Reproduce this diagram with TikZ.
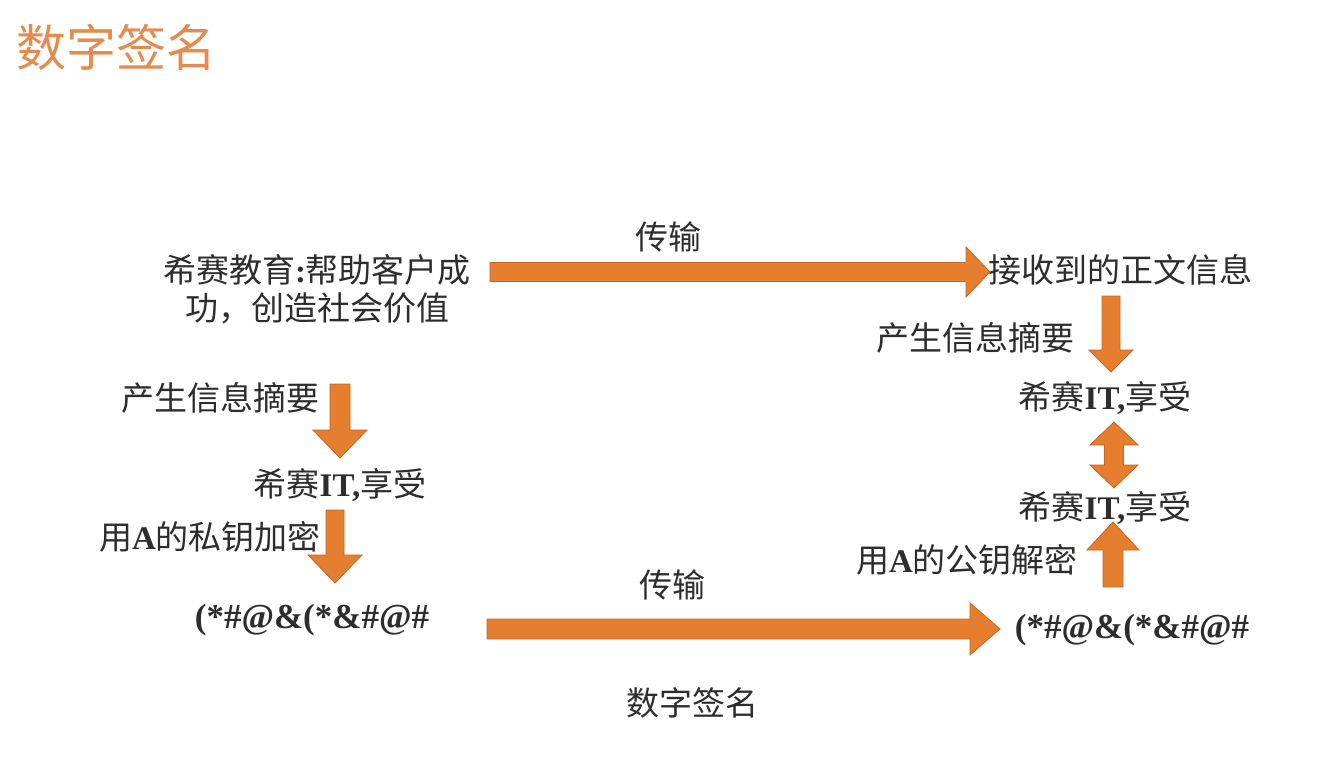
\documentclass[tikz,border=0pt]{standalone}
\usepackage{fontspec}
\setmainfont{Noto Sans CJK SC}
\newfontfamily\latb{Liberation Serif}[BoldFont={Liberation Serif Bold}]
\definecolor{arrowfill}{RGB}{230,126,48}
\definecolor{arrowline}{RGB}{200,100,35}
\definecolor{titlecol}{RGB}{228,140,80}
\definecolor{txt}{RGB}{45,45,45}
\newcommand\LB[1]{{\latb\bfseries #1}}
% horizontal arrow: x start, x tip, y centre, shaft half, head half, head length
\newcommand\myHArrow[6]{\filldraw[arrowst] (#1,#3-#4) -- (#2-#6,#3-#4) -- (#2-#6,#3-#5) -- (#2,#3) -- (#2-#6,#3+#5) -- (#2-#6,#3+#4) -- (#1,#3+#4) -- cycle;}
% vertical arrow: x centre, y start, y tip, shaft half, head half, signed head length
\newcommand\myVArrow[6]{\filldraw[arrowst] (#1-#4,#2) -- (#1-#4,#3-#6) -- (#1-#5,#3-#6) -- (#1,#3) -- (#1+#5,#3-#6) -- (#1+#4,#3-#6) -- (#1+#4,#2) -- cycle;}
\begin{document}
\begin{tikzpicture}[x=1pt,y=-1pt,
  arrowst/.style={fill=arrowfill,draw=arrowline,line width=0.8pt,line join=miter},
  lbl/.style={inner sep=0pt,text=txt,font=\fontsize{33}{38}\selectfont},
  cip/.style={inner sep=0pt,text=txt,font=\fontsize{35}{40}\selectfont},
  ttl/.style={inner sep=0pt,text=titlecol,font=\fontsize{50}{58}\selectfont}]
\useasboundingbox[fill=white] (0,0) rectangle (1330,784);

\node[ttl,anchor=west] (title) at (16,47) {数字签名};

% left column
\node[lbl,align=center] (src) at (317,289) {希赛教育\LB{:}帮助客户成\\功，创造社会价值};
\node[lbl] (ldig) at (220,398) {产生信息摘要};
\node[lbl] (lh) at (340,485) {希赛\LB{IT,}享受};
\node[lbl] (lenc) at (210,537) {用\LB{A}的私钥加密};
\node[cip] (lcip) at (312,620) {\LB{(*\#@\&(*\&\#@\#}};

% middle
\node[lbl] (t1) at (668,237) {传输};
\node[lbl] (t2) at (672,585) {传输};
\node[lbl] (cap) at (692,703) {数字签名};

% right column
\node[lbl,anchor=west] (recv) at (988,270) {接收到的正文信息};
\node[lbl] (rdig) at (975,338) {产生信息摘要};
\node[lbl] (rh1) at (1105,398) {希赛\LB{IT,}享受};
\node[lbl] (rh2) at (1105,508) {希赛\LB{IT,}享受};
\node[lbl] (rdec) at (967,560) {用\LB{A}的公钥解密};
\node[cip] (rcip) at (1132,630) {\LB{(*\#@\&(*\&\#@\#}};

% arrows
\myHArrow{490}{990}{272}{9.5}{25}{24}
\myHArrow{487}{1000}{629}{10}{26}{30}
\myVArrow{340}{384}{458}{10}{27}{28}
\myVArrow{335}{510}{583}{9}{27}{28}
\myVArrow{1111}{296}{372}{9}{22}{22}
\myVArrow{1113}{587}{522}{10}{26}{-28}
% double arrow
\filldraw[arrowst] (1114,422) -- (1138,445) -- (1123.5,445) -- (1123.5,465) -- (1138,465) -- (1114,488) -- (1090,465) -- (1104.5,465) -- (1104.5,445) -- (1090,445) -- cycle;
\end{tikzpicture}
\end{document}
